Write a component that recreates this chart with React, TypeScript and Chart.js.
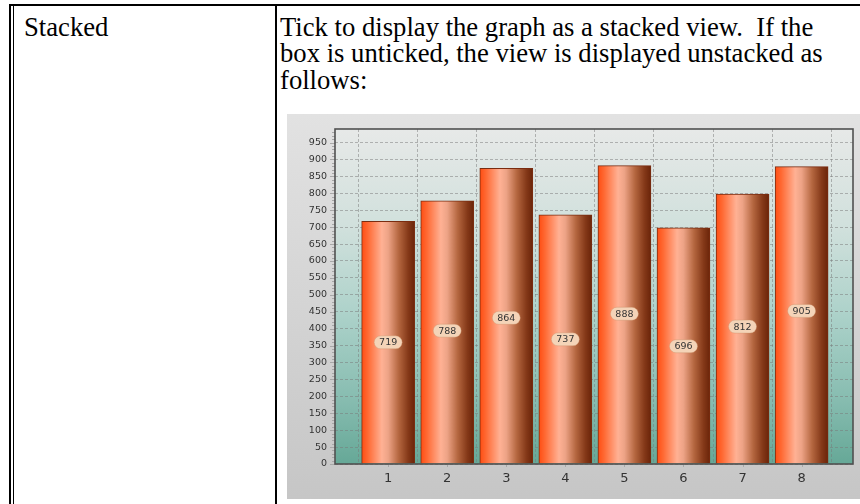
import React, { useEffect, useRef } from 'react';
import { Chart, registerables } from 'chart.js';

Chart.register(...registerables);

// ---- data ----
const categories = [1, 2, 3, 4, 5, 6, 7, 8];
// bar heights as drawn in the picture
const barHeights = [717, 778, 874, 736, 882, 698, 798, 879];
// values printed in the pills
const valueLabels = [719, 788, 864, 737, 888, 696, 812, 905];
const yTickValues = [0, 50, 100, 150, 200, 250, 300, 350, 400, 450, 500, 550, 600, 650, 700, 750, 800, 850, 900, 950];
const yMax = 990;
const xMin = 0.1;
const xMax = 8.87;

const leftCellText = 'Stacked';
const rightCellLines = [
  'Tick to display the graph as a stacked view.  If the',
  'box is unticked, the view is displayed unstacked as',
  'follows:',
];

function barFill(c: any) {
  const chart = c.chart;
  const xs = chart && chart.scales && chart.scales.x;
  if (!xs || c.type !== 'data') return '#ff7a40';
  const cx = xs.getPixelForValue(categories[c.dataIndex]);
  if (!Number.isFinite(cx)) return '#ff7a40';
  const g = chart.ctx.createLinearGradient(cx - 26.5, 0, cx + 26.5, 0);
  g.addColorStop(0, '#ff4d12');
  g.addColorStop(0.12, '#ff6a34');
  g.addColorStop(0.38, '#ffb194');
  g.addColorStop(0.5, '#eda386');
  g.addColorStop(0.7, '#b4663f');
  g.addColorStop(0.88, '#843818');
  g.addColorStop(1, '#6a2409');
  return g;
}

const bgPlugin = {
  id: 'bgPlugin',
  beforeDraw(chart: any) {
    const { ctx, width, height, chartArea } = chart;
    if (!chartArea) return;
    const { left, top, right, bottom } = chartArea;
    ctx.save();
    const g = ctx.createLinearGradient(0, 0, 0, height);
    g.addColorStop(0, '#e2e2e2');
    g.addColorStop(1, '#c6c6c6');
    ctx.fillStyle = g;
    ctx.fillRect(0, 0, width, height);
    const g2 = ctx.createLinearGradient(0, top, 0, bottom);
    g2.addColorStop(0, '#e7e9e8');
    g2.addColorStop(0.3, '#d0e0dc');
    g2.addColorStop(0.55, '#add2ca');
    g2.addColorStop(0.8, '#88bdb1');
    g2.addColorStop(1, '#66a897');
    ctx.fillStyle = g2;
    ctx.fillRect(left, top, right - left, bottom - top);
    ctx.restore();
  },
  afterDraw(chart: any) {
    const { ctx, chartArea, scales } = chart;
    if (!chartArea) return;
    const { left, top, right, bottom } = chartArea;
    ctx.save();
    ctx.strokeStyle = '#a8a8a8';
    ctx.lineWidth = 1;
    for (let v = 0; v <= 980; v += 10) {
      const y = Math.round(scales.y.getPixelForValue(v)) + 0.5;
      const len = v % 50 === 0 ? 5 : 3;
      ctx.beginPath();
      ctx.moveTo(left - len, y);
      ctx.lineTo(left, y);
      ctx.stroke();
    }
    for (let i = 0; i < categories.length; i++) {
      const x = Math.round(scales.x.getPixelForValue(categories[i])) + 0.5;
      ctx.beginPath();
      ctx.moveTo(x, bottom);
      ctx.lineTo(x, bottom + 3);
      ctx.stroke();
    }
    ctx.strokeStyle = '#505050';
    ctx.lineWidth = 1.6;
    ctx.strokeRect(left, top, right - left, bottom - top);
    ctx.restore();
  },
};

const labelPlugin = {
  id: 'labelPlugin',
  afterDatasetsDraw(chart: any) {
    const { ctx, scales } = chart;
    ctx.save();
    ctx.font = '9.5px "DejaVu Sans"';
    ctx.textAlign = 'center';
    ctx.textBaseline = 'middle';
    for (let i = 0; i < categories.length; i++) {
      const x = scales.x.getPixelForValue(categories[i]);
      const y = scales.y.getPixelForValue(valueLabels[i] / 2);
      const w = 28;
      const h = 13;
      const r = h / 2;
      ctx.beginPath();
      ctx.moveTo(x - w / 2 + r, y - h / 2);
      ctx.lineTo(x + w / 2 - r, y - h / 2);
      ctx.arc(x + w / 2 - r, y, r, -Math.PI / 2, Math.PI / 2);
      ctx.lineTo(x - w / 2 + r, y + h / 2);
      ctx.arc(x - w / 2 + r, y, r, Math.PI / 2, Math.PI * 1.5);
      ctx.closePath();
      ctx.fillStyle = '#f4d4b8';
      ctx.fill();
      ctx.strokeStyle = 'rgba(200,140,100,0.35)';
      ctx.lineWidth = 1;
      ctx.stroke();
      ctx.fillStyle = '#333333';
      ctx.fillText(String(valueLabels[i]), x, y + 0.5);
    }
    ctx.restore();
  },
};

function BarChart() {
  const ref = useRef<HTMLCanvasElement | null>(null);
  useEffect(() => {
    if (!ref.current) return;
    const chart = new Chart(ref.current, {
      type: 'bar',
      data: {
        datasets: [
          {
            data: categories.map((c, i) => ({ x: c, y: barHeights[i] })),
            backgroundColor: barFill,
            borderColor: '#7a2c10',
            borderWidth: 1,
            barThickness: 53,
          } as any,
        ],
      },
      options: {
        responsive: false,
        maintainAspectRatio: false,
        animation: false,
        layout: { padding: { left: 0, top: 15, right: 7, bottom: 0 } },
        plugins: { legend: { display: false }, tooltip: { enabled: false } },
        scales: {
          x: {
            type: 'linear',
            min: xMin,
            max: xMax,
            offset: false,
            afterBuildTicks: (s: any) => {
              s.ticks = categories.map((v) => ({ value: v }));
            },
            afterFit: (s: any) => {
              s.height = 35;
            },
            grid: { color: 'rgba(120,120,120,0.5)', lineWidth: 1, drawTicks: false },
            border: { display: false, dash: [3, 2] },
            ticks: {
              font: { family: 'DejaVu Sans', size: 13 },
              color: '#333333',
              padding: 7,
              callback: (v: any) => String(v),
            },
          },
          y: {
            min: 0,
            max: yMax,
            afterBuildTicks: (s: any) => {
              s.ticks = yTickValues.map((v) => ({ value: v }));
            },
            afterFit: (s: any) => {
              s.width = 48;
            },
            grid: { color: 'rgba(120,120,120,0.5)', lineWidth: 1, drawTicks: false },
            border: { display: false, dash: [3, 2] },
            ticks: {
              font: { family: 'DejaVu Sans', size: 9.5 },
              color: '#333333',
              padding: 8,
              callback: (v: any) => String(v),
            },
          },
        },
      } as any,
      plugins: [bgPlugin, labelPlugin],
    });
    return () => chart.destroy();
  }, []);
  return (
    <canvas
      ref={ref}
      width={573}
      height={385}
      style={{ position: 'absolute', left: 287, top: 114, width: 573, height: 385 }}
    />
  );
}

export default function App() {
  const textStyle: React.CSSProperties = {
    position: 'absolute',
    fontFamily: '"Liberation Serif", "Times New Roman", serif',
    fontSize: '26.67px',
    lineHeight: '26.67px',
    color: '#000',
    whiteSpace: 'pre',
  };
  return (
    <div
      style={{
        position: 'fixed',
        left: 0,
        top: 0,
        width: 860,
        height: 504,
        background: '#ffffff',
        overflow: 'hidden',
      }}
    >
      <div style={{ position: 'absolute', left: 9, top: 4, width: 851, height: 2, background: '#000' }} />
      <div style={{ position: 'absolute', left: 9, top: 4, width: 2, height: 500, background: '#000' }} />
      <div style={{ position: 'absolute', left: 13, top: 6, width: 1, height: 498, background: '#000' }} />
      <div style={{ position: 'absolute', left: 275, top: 4, width: 2, height: 500, background: '#000' }} />

      <div style={{ ...textStyle, left: 24, top: 13.5 }}>{leftCellText}</div>
      {rightCellLines.map((line, i) => (
        <div key={i} style={{ ...textStyle, left: 280, top: 13.5 + i * 26.67 }}>
          {line}
        </div>
      ))}

      <BarChart />
    </div>
  );
}
